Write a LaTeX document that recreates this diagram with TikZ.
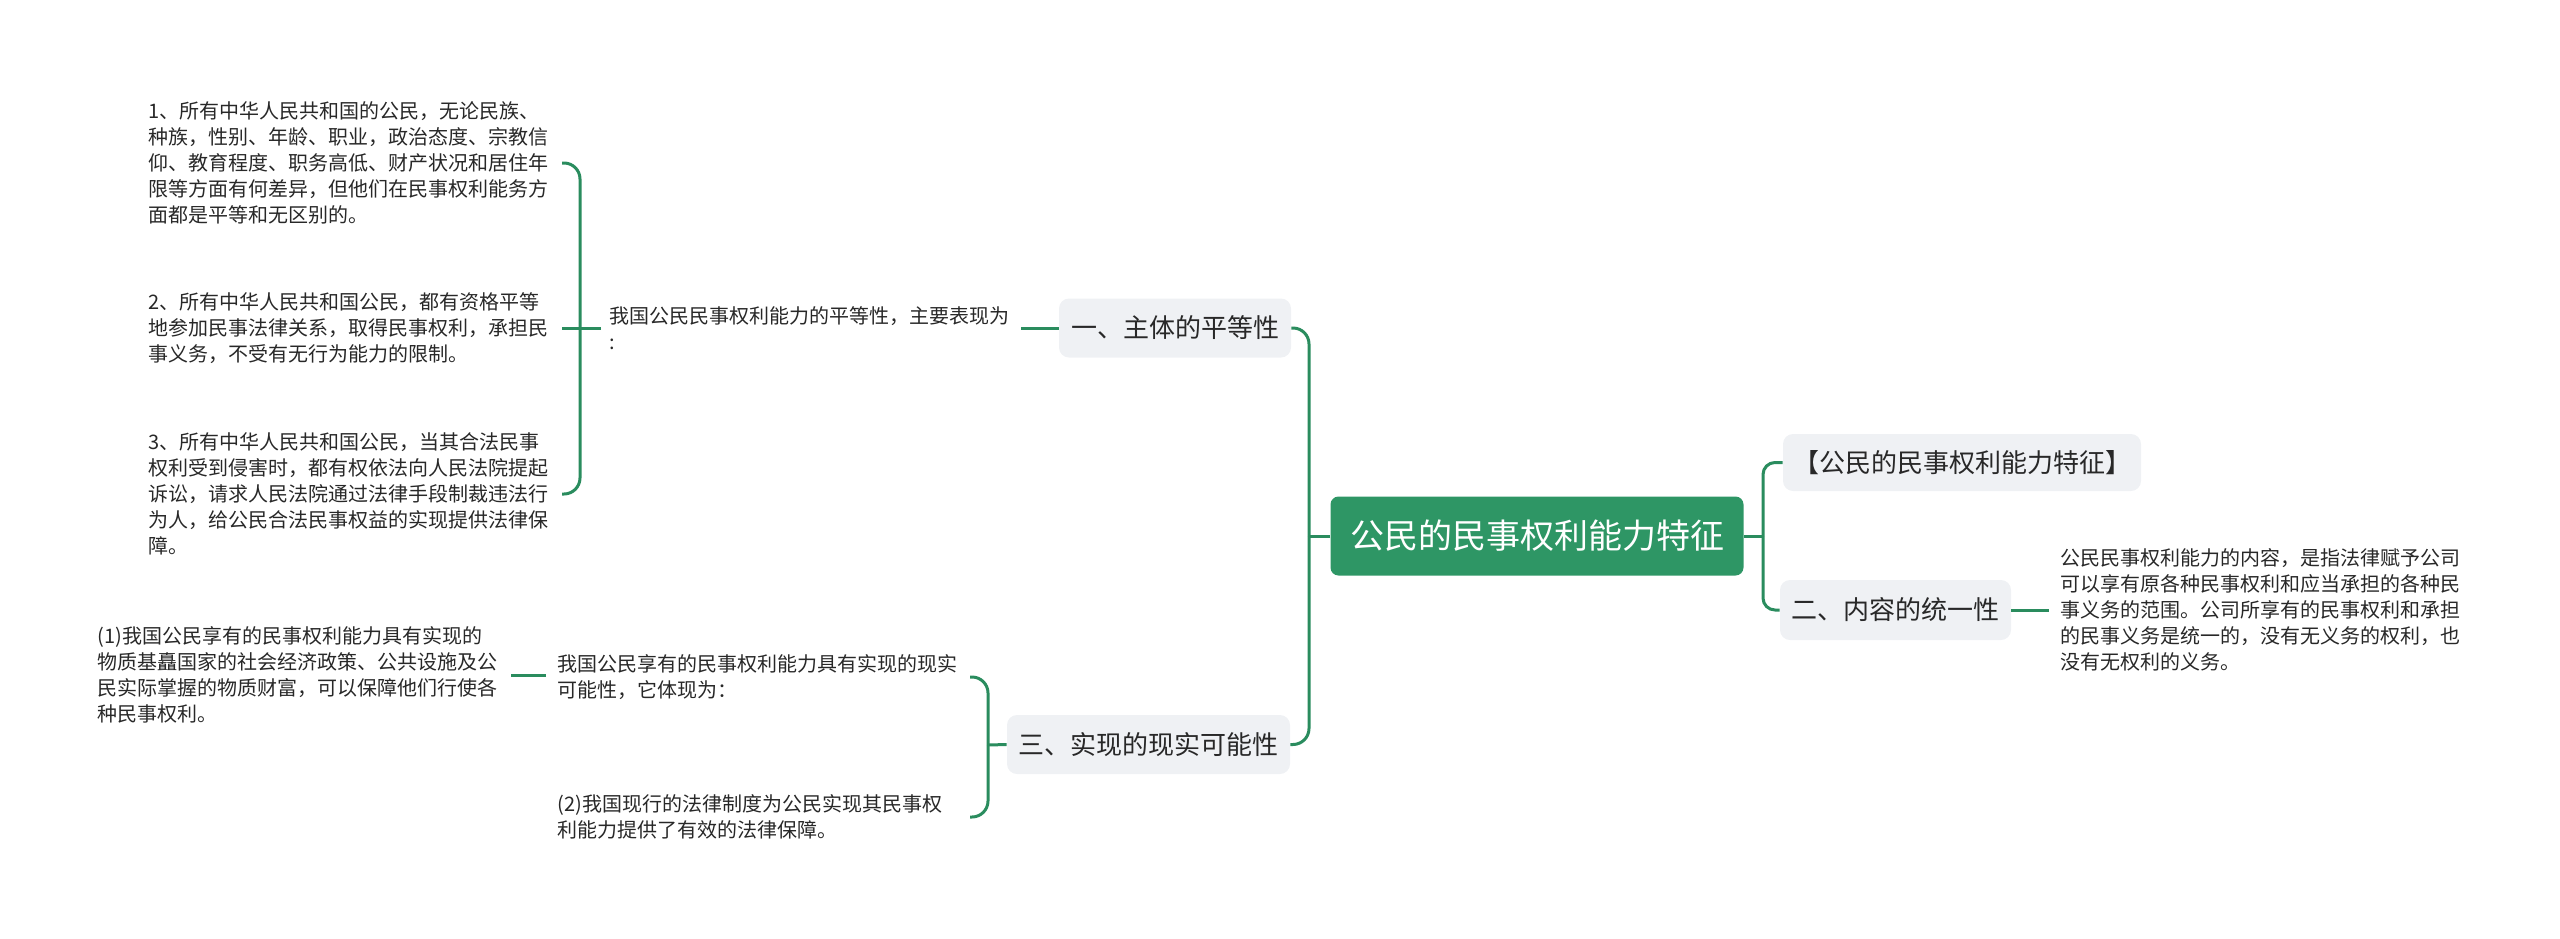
\documentclass[tikz,border=0pt]{standalone}
\usepackage{fontspec}
\setmainfont{Noto Sans CJK SC}
\definecolor{rootgreen}{RGB}{46,150,101}
\definecolor{linegreen}{RGB}{42,140,94}
\definecolor{boxgray}{RGB}{239,241,244}
\definecolor{txt}{RGB}{40,40,40}
\tikzset{
  conn/.style={draw=linegreen, line width=1.5pt},
  bus/.style={conn, rounded corners=8pt},
  rootbox/.style={fill=rootgreen, rounded corners=4pt, text=white, inner sep=0pt,
    font=\fontsize{17}{20}\selectfont},
  graybox/.style={fill=boxgray, rounded corners=5pt, text=txt, inner sep=0pt,
    font=\fontsize{13}{16}\selectfont},
  leaf/.style={anchor=west, align=left, inner sep=0pt, text=txt,
    font=\fontsize{10}{13}\selectfont},
}
\begin{document}
\begin{tikzpicture}[x=0.5pt, y=-0.5pt]
\path[use as bounding box] (0,0) rectangle (2560,938);

% central topic
\node[rootbox, minimum width=206.5pt, minimum height=39.5pt] (root) at (1537,536) {公民的民事权利能力特征};

% main branches
\node[graybox, minimum width=116pt, minimum height=29.5pt] (b1) at (1175,328) {一、主体的平等性};
\node[graybox, minimum width=141.5pt, minimum height=29.5pt] (b3) at (1148.5,744.5) {三、实现的现实可能性};
\node[graybox, minimum width=179pt, minimum height=28.5pt] (bR) at (1962,462.5) {【公民的民事权利能力特征】};
\node[graybox, minimum width=115.5pt, minimum height=30pt] (b2) at (1895.5,610) {二、内容的统一性};

% branch 1 texts
\node[leaf] (t1) at (609,328) {我国公民民事权利能力的平等性，主要表现为\\:};
\node[leaf] (i1) at (148,163) {1、所有中华人民共和国的公民，无论民族、\\种族，性别、年龄、职业，政治态度、宗教信\\仰、教育程度、职务高低、财产状况和居住年\\限等方面有何差异，但他们在民事权利能务方\\面都是平等和无区别的。};
\node[leaf] (i2) at (148,328) {2、所有中华人民共和国公民，都有资格平等\\地参加民事法律关系，取得民事权利，承担民\\事义务，不受有无行为能力的限制。};
\node[leaf] (i3) at (148,494) {3、所有中华人民共和国公民，当其合法民事\\权利受到侵害时，都有权依法向人民法院提起\\诉讼，请求人民法院通过法律手段制裁违法行\\为人，给公民合法民事权益的实现提供法律保\\障。};

% branch 3 texts
\node[leaf] (t3) at (557,677) {我国公民享有的民事权利能力具有实现的现实\\可能性，它体现为：};
\node[leaf] (t3a) at (97,675) {(1)我国公民享有的民事权利能力具有实现的\\物质基矗国家的社会经济政策、公共设施及公\\民实际掌握的物质财富，可以保障他们行使各\\种民事权利。};
\node[leaf] (t3b) at (557,817) {(2)我国现行的法律制度为公民实现其民事权\\利能力提供了有效的法律保障。};

% branch 2 text
\node[leaf] (t2) at (2060,610) {公民民事权利能力的内容，是指法律赋予公司\\可以享有原各种民事权利和应当承担的各种民\\事义务的范围。公司所享有的民事权利和承担\\的民事义务是统一的，没有无义务的权利，也\\没有无权利的义务。};

% bus coordinates
\coordinate (busL) at (1309,536);
\coordinate (busR) at (1763,536);
\coordinate (bus1) at (580,328);
\coordinate (end1) at (562,328);
\coordinate (bus3) at (988,745);
\coordinate (end3) at (970,745);

% root connectors
\draw[conn] (root.west) -- (busL);
\draw[bus] (busL) |- (b1.east);
\draw[bus] (busL) |- (b3.east);
\draw[conn] (root.east) -- (busR);
\draw[bus, rounded corners=6pt] (busR) |- (bR.west);
\draw[bus, rounded corners=6pt] (busR) |- (b2.west);

% branch 1
\draw[conn] (b1.west) -- ([xshift=-19pt]b1.west);
\draw[conn] ([xshift=-4pt]t1.west) -- (bus1);
\draw[bus] (bus1) |- (i1.east -| end1);
\draw[conn] (bus1) -- (i2.east -| end1);
\draw[bus] (bus1) |- (i3.east -| end1);

% branch 3
\draw[conn] (b3.west) -- (bus3);
\draw[bus] (bus3) |- (t3.east -| end3);
\draw[bus] (bus3) |- (t3b.east -| end3);
\draw[conn] ([xshift=-5.5pt]t3.west |- t3a.east) -- ([xshift=6.5pt]t3a.east);

% branch 2
\draw[conn] (b2.east) -- ([xshift=-5.5pt]t2.west);
\end{tikzpicture}
\end{document}
